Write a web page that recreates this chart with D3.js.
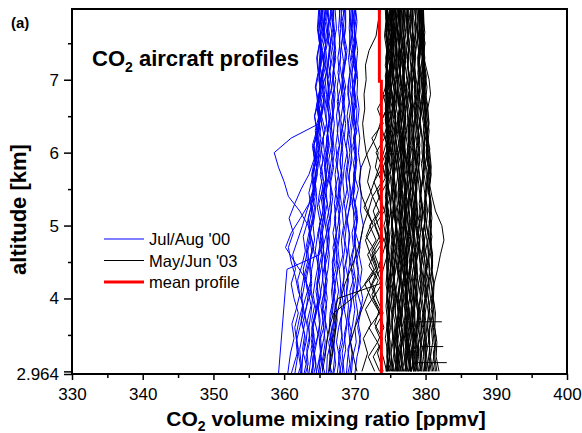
<!DOCTYPE html>
<html>
<head>
<meta charset="utf-8">
<script src="https://cdn.jsdelivr.net/npm/d3@7"></script>
<style>
  html, body { margin: 0; padding: 0; background: #fff; }
  svg { display: block; font-family: Arial, "Liberation Sans", Helvetica, sans-serif; }
</style>
</head>
<body>
<svg id="chart" width="582" height="433"></svg>
<script>
// Sampling levels (km). Flights were logged on three interleaved altitude schemes.
const julAugLevelsA = [2.964, 3.2, 3.4, 3.6, 3.8, 4.0, 4.2, 4.4, 4.6, 4.8, 5.0, 5.2, 5.4, 5.6, 5.8, 6.0, 6.2, 6.4, 6.6, 6.8, 7.0, 7.2, 7.4, 7.6, 7.8, 7.97];
const julAugLevelsB = [2.964, 3.1, 3.3, 3.5, 3.7, 3.9, 4.1, 4.3, 4.5, 4.7, 4.9, 5.1, 5.3, 5.5, 5.7, 5.9, 6.1, 6.3, 6.5, 6.7, 6.9, 7.1, 7.3, 7.5, 7.7, 7.97];
const julAugLevelsC = [2.964, 3.25, 3.45, 3.65, 3.85, 4.05, 4.25, 4.45, 4.65, 4.85, 5.05, 5.25, 5.45, 5.65, 5.85, 6.05, 6.25, 6.45, 6.65, 6.85, 7.05, 7.25, 7.45, 7.65, 7.85, 7.97];
const mayJunLevelsA = [3.0, 3.2, 3.4, 3.6, 3.8, 4.0, 4.2, 4.4, 4.6, 4.8, 5.0, 5.2, 5.4, 5.6, 5.8, 6.0, 6.2, 6.4, 6.6, 6.8, 7.0, 7.2, 7.4, 7.6, 7.8, 7.97];
const mayJunLevelsB = [3.0, 3.1, 3.3, 3.5, 3.7, 3.9, 4.1, 4.3, 4.5, 4.7, 4.9, 5.1, 5.3, 5.5, 5.7, 5.9, 6.1, 6.3, 6.5, 6.7, 6.9, 7.1, 7.3, 7.5, 7.7, 7.97];
const mayJunLevelsC = [3.0, 3.25, 3.45, 3.65, 3.85, 4.05, 4.25, 4.45, 4.65, 4.85, 5.05, 5.25, 5.45, 5.65, 5.85, 6.05, 6.25, 6.45, 6.65, 6.85, 7.05, 7.25, 7.45, 7.65, 7.85, 7.97];

// Jul/Aug 2000 CO2 (ppmv), bottom to top; null = no reading
const julAugA = [
  [364.0,364.3,364.1,363.9,364.4,364.8,364.7,364.9,365.3,365.2,365.0,365.5,365.6,365.9,365.7,365.8,366.2,366.0,365.9,366.3,366.1,366.2,366.5,366.1,366.3,366.0],
  [366.5,366.6,366.3,366.9,367.1,367.0,366.8,367.3,367.5,367.2,367.6,367.9,367.7,367.8,368.2,368.3,368.0,368.4,368.6,368.2,368.3,368.5,368.7,368.4,368.2,368.5],
  [368.8,369.0,369.3,369.1,369.2,369.6,369.8,369.5,369.7,370.1,369.9,369.8,369.5,369.8,370.0,370.2,369.9,370.1,369.8,369.7,370.0,370.1,369.8,370.0,369.9,369.7],
  [362.5,362.6,363.1,363.3,362.9,363.5,363.9,363.6,363.8,364.3,364.1,364.4,364.6,364.4,364.8,364.9,365.2,364.9,365.3,365.1,365.2,365.6,365.3,365.1,365.4,365.3],
  [365.0,365.5,365.8,365.6,365.7,366.1,365.8,366.2,366.4,366.1,366.5,366.6,366.9,366.5,366.8,367.1,366.9,366.6,367.0,367.2,366.9,367.0,367.3,367.1,366.9,367.0],
  [369.5,369.7,370.2,370.0,370.4,370.1,370.3,370.5,370.2,369.9,370.2,370.3,369.8,369.9,370.2,370.1,369.8,370.2,370.3,369.9,370.0,370.2,369.9,370.1,369.8,370.0],
  [363.4,363.1,363.6,363.5,363.8,364.0,363.7,363.9,364.3,363.9,363.4,362.2,360.6,360.0,359.2,358.6,361.0,365.0,365.4,365.7,365.4,365.9,365.7,366.1,365.8,366.1],
  [359.2,null,null,null,null,null,null,360.4,365.0,365.5,365.3,365.7,365.4,366.0,365.8,366.2,366.0,366.5,366.2,366.4,366.2,366.6,366.4,366.8,366.5,366.7],
  [367.5,367.8,367.4,367.7,368.2,367.9,368.0,367.8,368.3,368.1,368.4,368.2,368.5,368.3,368.5,368.9,368.5,368.7,368.4,368.6,368.3,368.6,368.9,368.5,368.7,368.5],
  [363.5,363.8,364.3,364.1,364.5,364.9,364.6,365.0,364.8,365.2,365.0,365.5,365.2,365.6,365.3,365.7,365.5,366.0,365.7,366.0,365.8,366.1,365.9,366.3,366.0,366.2],
  [370.0,370.3,370.8,370.4,370.8,371.1,370.7,371.0,370.6,370.8,371.2,370.8,370.9,370.7,370.8,370.5,370.7,370.4,370.6,370.3,370.4,370.2,370.4,370.1,370.3,370.1],
  [361.5,361.9,361.7,362.2,362.7,362.5,362.9,362.7,363.2,363.7,363.5,363.9,364.4,364.2,364.6,365.1,364.9,365.3,365.0,365.5,365.3,365.7,365.4,365.8,365.6,365.8],
  [366.0,366.1,366.6,366.4,366.5,367.0,367.2,366.8,367.1,367.4,367.3,367.2,367.6,367.8,367.5,367.7,368.0,367.9,367.7,368.1,368.2,367.9,368.0,368.3,368.1,368.1],
  [362.5,362.1,361.8,361.5,362.0,361.4,361.0,361.6,361.2,361.9,362.6,363.2,363.9,364.5,364.3,364.9,364.6,365.0,364.7,365.3,364.9,365.2,365.1,365.6,365.2,365.4],
  [368.0,367.7,368.3,368.0,368.2,368.6,368.4,368.5,368.9,368.6,368.8,368.7,369.1,368.8,369.0,369.3,369.0,369.1,369.4,369.0,369.2,369.5,369.2,369.3,369.4,369.2],
  [364.8,365.2,365.0,365.6,365.4,365.5,365.9,365.7,366.2,366.4,366.2,366.7,366.5,366.6,367.0,366.7,366.9,367.1,366.8,367.0,367.3,366.9,367.1,367.2,367.0,367.0]
];
const julAugB = [
  [362.8,363.1,362.6,362.9,362.4,362.7,362.0,361.6,361.0,360.6,361.3,360.7,361.5,362.4,363.5,364.2,364.7,364.4,364.9,364.8,365.2,364.9,365.3,365.0,365.4,365.2],
  [365.8,365.4,365.9,366.2,365.8,366.0,365.6,366.0,365.7,366.1,366.0,366.4,366.1,365.6,366.0,365.8,366.3,366.1,366.4,366.0,366.3,366.0,366.3,366.6,366.3,366.6],
  [364.5,364.8,365.2,364.9,365.1,364.8,365.2,365.5,365.3,365.6,365.4,365.8,365.6,366.0,366.5,366.3,366.7,366.5,366.9,366.7,367.1,366.9,367.3,367.0,367.4,367.2],
  [368.2,368.3,368.7,368.5,368.9,369.1,368.8,369.0,369.3,369.1,369.2,368.9,369.4,369.3,369.2,369.6,369.4,369.5,369.8,369.5,369.7,369.6,369.9,369.6,369.7,369.6],
  [362.0,362.4,362.2,362.6,363.0,362.7,363.3,363.0,363.5,363.3,363.7,363.4,363.9,364.3,364.0,364.5,364.2,364.8,365.1,364.9,365.3,365.0,365.4,365.2,365.6,365.4],
  [365.2,364.9,365.3,365.1,365.5,365.2,365.7,365.4,365.8,365.5,366.0,365.7,366.1,365.9,366.3,366.0,366.4,366.1,366.6,366.3,366.7,366.4,366.8,366.5,366.9,366.6],
  [367.0,367.3,367.0,367.2,367.5,367.3,367.7,367.4,367.8,367.6,367.9,367.7,368.1,367.8,368.2,367.9,368.3,368.1,368.6,368.2,368.7,368.3,368.8,368.4,368.7,368.7],
  [369.0,369.3,369.0,369.6,369.1,369.5,369.3,369.9,369.3,369.8,369.6,370.1,369.6,370.0,369.8,370.2,369.7,370.3,369.8,370.2,369.9,370.3,369.8,370.1,369.9,370.1],
  [364.2,364.5,364.2,364.8,364.3,364.8,364.5,365.0,364.7,365.1,364.8,365.3,364.9,365.5,365.1,365.5,365.2,365.8,365.3,365.7,365.4,366.0,365.5,365.9,365.6,365.9],
  [366.8,366.4,366.9,366.6,367.0,366.7,367.3,366.8,367.2,366.9,367.4,367.1,367.6,367.2,367.7,367.3,367.8,367.5,367.9,367.5,368.0,367.6,368.0,367.8,368.0,367.8],
  [363.0,363.4,363.2,363.6,363.3,363.8,363.4,363.9,363.6,364.2,363.7,364.2,363.9,364.5,364.0,364.5,364.2,364.7,364.3,364.9,364.4,364.8,364.6,365.0,364.7,364.9],
  [null,null,370.5,370.8,370.4,370.9,370.3,370.6,370.2,370.7,370.1,370.4,370.0,370.5,369.9,370.3,369.9,370.2,369.7,370.0,369.6,370.1,369.5,369.9,369.5,369.7],
  [363.8,364.1,363.8,364.2,363.9,364.3,363.6,362.8,361.5,360.2,361.0,362.3,363.5,364.1,363.9,364.3,364.0,364.6,364.3,364.7,364.5,364.9,364.7,365.0,364.8,365.0],
  [366.2,366.6,366.4,366.8,366.5,366.9,366.7,367.0,366.8,367.2,366.9,367.3,367.1,367.4,367.2,367.5,367.3,367.6,367.4,367.7,367.5,367.8,367.6,367.9,367.7,367.9],
  [361.0,361.4,362.0,361.7,362.1,362.6,362.4,362.8,363.3,363.1,363.5,364.0,363.8,364.2,364.7,364.5,364.9,364.7,365.0,364.8,365.1,364.9,365.2,365.0,365.2,365.0],
  [367.8,368.1,367.8,368.2,368.0,368.4,368.1,368.5,368.3,368.6,368.4,368.8,368.5,368.9,368.7,369.0,368.8,369.1,368.9,369.2,369.0,369.3,369.1,369.4,369.2,369.3]
];
const julAugC = [
  [364.6,364.3,364.7,365.0,364.8,365.2,364.9,365.3,365.6,365.2,365.5,365.8,365.5,365.9,366.2,365.9,366.1,366.4,366.1,366.3,366.6,366.2,366.4,366.1,366.3,366.2],
  [366.9,367.2,366.8,367.1,367.4,367.0,367.3,367.6,367.3,367.7,367.9,367.6,367.9,368.2,367.9,368.1,368.4,368.0,368.3,368.5,368.2,368.4,368.1,368.3,368.5,368.3],
  [362.3,362.7,363.0,362.6,363.1,363.4,363.1,363.5,363.9,363.6,364.0,364.3,364.0,364.4,364.7,364.5,364.8,365.1,364.8,365.0,365.3,365.0,365.2,364.9,365.1,365.0],
  [369.3,369.6,369.3,369.7,370.0,369.7,370.1,369.8,370.2,369.9,370.3,370.0,369.7,370.1,369.8,370.2,370.0,369.7,370.1,369.9,370.2,369.8,370.1,369.9,370.2,370.0],
  [365.5,365.2,365.6,365.9,365.5,365.8,366.1,365.7,366.0,366.3,366.0,366.4,366.7,366.3,366.6,366.9,366.6,366.8,367.1,366.7,366.9,367.2,366.8,367.0,366.8,366.9],
  [360.5,360.9,361.4,361.1,361.7,362.2,361.9,362.5,363.0,362.7,363.3,363.8,363.5,364.0,364.4,364.1,364.6,364.9,364.6,365.0,365.3,365.0,365.2,364.9,365.1,365.0],
  [368.5,368.2,368.6,368.9,368.5,368.8,369.1,368.7,369.0,369.3,368.9,369.2,369.5,369.1,369.4,369.6,369.2,369.5,369.7,369.3,369.5,369.8,369.4,369.6,369.4,369.5],
  [363.9,364.2,363.8,364.1,364.5,364.1,364.4,364.8,364.4,364.7,365.1,364.7,365.0,365.4,365.0,365.3,365.6,365.2,365.5,365.8,365.4,365.6,365.9,365.5,365.7,365.6]
];

// May/Jun 2003 CO2 (ppmv), bottom to top
const mayJunA = [
  [374.9,374.6,374.8,375.0,374.7,374.5,374.8,375.1,374.9,374.6,374.7,375.1,374.9,374.5,374.6,374.9,375.0,374.7,374.4,374.6,374.8,374.9,374.6,374.8,374.7,374.5],
  [375.3,375.7,375.5,375.2,375.4,375.6,375.1,375.0,375.4,375.6,375.3,375.0,375.2,375.5,375.4,375.1,374.9,375.2,375.4,375.3,375.0,375.1,375.4,375.5,375.2,375.3],
  [376.2,376.0,375.7,375.9,376.2,375.9,375.6,375.5,375.8,376.0,375.8,375.5,375.7,375.4,375.6,375.9,375.7,375.8,375.5,375.6,375.9,375.7,375.4,375.6,375.5,375.6],
  [376.5,376.2,376.6,376.8,376.4,376.1,376.4,376.6,376.3,376.2,375.9,376.2,376.5,376.4,376.2,376.0,376.3,376.1,376.4,376.0,376.1,376.5,376.3,376.2,375.9,376.2],
  [377.2,377.0,376.8,377.0,376.7,376.6,376.9,377.1,376.8,376.7,376.4,376.6,376.4,376.7,376.8,376.5,376.6,376.3,376.5,376.8,376.5,376.4,376.2,376.5,376.3,376.4],
  [377.5,377.2,377.4,377.0,377.2,377.4,377.0,376.8,377.1,377.3,377.0,377.2,376.9,377.2,376.8,376.9,376.7,377.0,376.9,377.1,376.8,376.9,376.6,376.8,376.7,376.8],
  [378.0,377.8,377.6,377.9,377.7,377.4,377.6,377.3,377.5,377.9,377.7,377.6,377.3,377.5,377.2,377.4,377.8,377.5,377.4,377.2,377.4,377.1,377.3,377.6,377.3,377.4],
  [378.4,378.1,378.3,378.0,377.9,378.1,377.9,377.7,378.0,378.3,378.1,378.0,377.7,377.9,377.6,377.8,377.6,377.8,378.0,377.8,377.7,377.5,377.7,377.6,377.8,377.6],
  [378.9,378.6,378.7,378.4,378.5,378.3,378.4,378.8,378.5,378.5,378.2,378.4,378.1,378.3,378.7,378.4,378.4,378.1,378.2,378.0,378.2,378.5,378.3,378.3,378.0,378.2],
  [379.5,379.2,379.3,379.0,379.1,378.8,379.0,379.4,379.1,379.2,378.8,378.9,378.6,378.8,378.5,378.7,379.0,378.8,378.8,378.5,378.6,378.4,378.5,378.9,378.6,378.7],
  [380.2,379.9,380.0,379.7,379.8,379.5,379.7,380.0,379.8,379.8,379.4,379.6,379.3,379.5,379.8,379.5,379.5,379.2,379.3,379.1,379.2,379.0,379.1,379.4,379.1,379.2],
  [380.8,380.5,380.6,380.3,380.4,380.1,380.3,380.6,380.4,380.5,380.1,380.3,380.0,380.2,380.6,380.3,380.3,380.0,380.1,379.8,379.9,379.7,379.8,379.6,379.7,379.6],
  [381.6,381.3,381.4,381.1,381.2,380.9,381.1,380.8,380.9,380.6,380.8,380.5,380.6,380.3,380.4,380.1,380.2,379.9,380.0,379.7,379.8,379.6,379.7,379.5,379.6,379.5],
  [380.5,380.7,380.5,380.6,381.0,380.8,381.2,381.7,382.1,382.6,382.3,381.4,380.9,380.5,380.8,380.6,380.2,380.5,380.3,379.9,380.0,379.8,379.5,379.7,379.4,379.5],
  [379.8,380.0,379.8,379.9,379.7,379.9,379.6,379.8,379.5,379.7,379.4,379.6,379.3,379.5,379.9,380.3,380.1,380.4,380.3,380.7,380.5,380.0,379.6,379.3,379.5,379.3],
  [375.2,374.9,375.0,374.7,374.9,374.6,374.8,374.5,374.6,374.9,374.6,374.7,374.4,374.6,374.5,374.7,374.6,374.8,374.5,374.6,374.4,374.5,374.8,374.5,374.6,374.5],
  [375.9,376.2,375.9,376.0,375.7,375.8,375.5,375.7,375.4,375.5,375.9,375.6,375.7,375.4,375.6,375.3,375.4,375.8,375.5,375.6,375.3,375.4,375.2,375.3,375.7,375.3],
  [376.9,376.6,376.6,376.3,376.5,376.2,376.4,376.1,376.3,376.7,376.3,376.4,376.1,376.2,375.9,376.1,375.8,376.0,376.3,376.0,376.1,375.8,375.9,375.7,375.8,375.7],
  [377.8,377.5,377.5,377.2,377.4,377.1,377.3,377.0,377.2,377.6,377.2,377.3,377.0,377.1,376.8,377.0,376.7,376.9,377.2,376.9,377.0,376.7,376.8,376.6,376.7,376.6],
  [378.6,378.3,378.3,378.0,378.2,377.9,378.1,377.8,378.0,378.4,378.0,378.1,377.8,377.9,377.6,377.8,377.5,377.7,378.0,377.7,377.8,377.5,377.6,377.4,377.5,377.4],
  [379.3,379.0,379.0,378.7,378.9,378.6,378.8,378.5,378.7,379.1,378.7,378.8,378.5,378.6,378.3,378.5,378.2,378.4,378.7,378.4,378.5,378.2,378.3,378.1,378.2,378.1],
  [374.6,374.9,374.8,375.0,374.9,375.2,375.0,375.3,375.1,375.4,375.2,375.5,375.3,375.6,375.4,375.7,375.5,375.8,375.6,375.9,375.7,376.0,375.8,376.1,375.9,376.0],
  [377.8,377.5,377.6,377.3,377.4,377.1,377.2,377.0,377.0,376.8,376.9,376.7,376.7,376.5,376.6,376.4,376.4,376.2,376.3,376.1,376.1,375.9,376.0,375.8,375.9,375.8],
  [380.0,379.7,379.7,379.4,379.6,379.3,379.5,379.2,379.4,379.8,379.4,379.5,379.2,379.3,379.0,379.2,378.9,379.1,379.4,379.1,379.2,378.9,379.0,378.8,378.9,378.8],
  [374.8,374.5,374.8,374.6,374.9,374.7,374.4,374.6,374.5,374.7,374.6,374.2,374.5,374.4,374.6,374.5,374.7,374.6,374.3,374.5,374.4,374.6,374.5,374.2,374.4,374.3],
  [381.0,380.7,381.0,380.8,380.4,380.7,380.5,380.1,380.4,380.2,379.8,380.1,379.9,380.2,380.0,379.6,379.9,379.7,379.3,379.6,379.4,379.0,379.3,379.1,379.2,379.1],
  [381.9,381.5,381.6,381.3,381.4,381.1,381.2,380.9,381.0,380.7,380.8,380.5,380.6,380.3,380.4,380.1,380.2,379.9,379.9,379.7,379.8,379.5,379.6,379.4,379.5,379.4],
  [376.1,375.8,376.1,375.9,376.2,376.0,376.3,376.1,376.4,376.2,376.5,376.3,376.6,376.4,376.7,376.5,376.8,376.6,376.9,376.7,377.0,376.8,377.1,376.9,377.0,376.9],
  [366.3,366.5,366.8,367.2,367.5,368.0,368.6,369.4,370.2,370.8,371.2,371.9,372.5,371.8,372.2,371.6,371.3,371.1,371.4,371.3,371.6,371.5,372.0,373.0,373.3,373.6],
  [366.4,366.8,367.0,367.3,367.1,367.6,373.5,374.0,374.6,374.2,374.8,374.4,375.0,374.6,375.1,374.7,375.2,374.8,375.3,374.9,375.4,375.0,375.5,375.1,375.4,375.2],
  [365.4,365.8,366.0,366.4,367.0,369.6,371.5,373.2,372.4,373.6,372.8,374.2,373.5,374.6,374.0,374.8,374.3,375.0,374.6,375.2,374.7,375.3,374.9,375.4,375.0,375.2],
  [372.8,371.9,373.2,372.0,373.5,372.3,371.4,372.7,371.8,373.0,372.1,373.4,372.5,373.8,372.9,373.3,372.4,374.0,373.2,374.3,374.8,375.2,374.6,375.0,374.7,374.9],
  [373.5,372.6,373.8,372.9,374.0,373.1,372.5,373.6,372.8,374.1,373.3,372.6,373.5,372.7,373.9,373.0,374.2,373.6,374.5,374.0,374.7,374.3,374.8,374.4,374.9,374.6],
  [374.5,374.0,373.2,374.1,373.5,372.6,373.8,373.0,372.2,371.5,372.6,371.8,371.0,370.6,370.9,371.8,372.9,373.6,374.5,375.0,374.6,375.1,374.7,375.2,374.8,375.0],
  [370.3,369.8,369.4,370.0,370.8,371.6,372.4,373.2,373.9,374.5,374.1,374.7,374.3,374.9,374.5,375.1,374.7,375.2,374.8,375.3,374.9,375.4,375.0,375.5,375.1,375.3]
];
const mayJunB = [
  [375.0,375.2,375.1,375.4,375.3,375.1,375.3,375.5,375.2,375.4,375.1,375.3,375.0,375.2,375.4,375.1,375.3,375.0,375.2,375.4,375.1,375.0,375.3,375.1,375.2,375.1],
  [375.6,375.8,375.5,375.7,375.9,375.6,375.8,375.5,375.7,376.0,375.7,375.9,375.6,375.8,375.5,375.7,375.9,375.6,375.8,375.5,375.7,375.4,375.6,375.8,375.5,375.6],
  [376.3,376.6,376.4,376.7,376.5,376.3,376.6,376.4,376.7,376.4,376.2,376.5,376.3,376.6,376.3,376.1,376.4,376.2,376.5,376.2,376.0,376.3,376.1,376.4,376.1,376.2],
  [377.0,377.3,377.1,377.4,377.2,377.0,377.3,377.1,377.4,377.1,376.9,377.2,377.0,377.3,377.0,376.8,377.1,376.9,377.2,376.9,376.7,377.0,376.8,377.1,376.8,377.0],
  [377.6,377.9,377.7,378.0,377.8,377.6,377.9,377.7,378.0,377.7,377.5,377.8,377.6,377.9,377.6,377.4,377.7,377.5,377.8,377.5,377.3,377.6,377.4,377.7,377.4,377.5],
  [378.3,378.6,378.4,378.7,378.5,378.3,378.6,378.4,378.7,378.4,378.2,378.5,378.3,378.6,378.3,378.1,378.4,378.2,378.5,378.2,378.0,378.3,378.1,378.4,378.1,378.2],
  [379.1,379.4,379.2,379.5,379.3,379.1,379.4,379.2,379.5,379.2,379.0,379.3,379.1,379.4,379.1,378.9,379.2,379.0,379.3,379.0,378.8,379.1,378.9,379.2,378.9,379.0],
  [379.8,380.1,379.9,380.2,380.0,379.8,380.1,379.9,380.2,379.9,379.7,380.0,379.8,380.1,379.8,379.6,379.9,379.7,380.0,379.7,379.5,379.8,379.6,379.9,379.6,379.7],
  [374.5,374.7,374.5,374.8,374.6,374.4,374.7,374.5,374.8,374.5,374.3,374.6,374.4,374.7,374.4,374.3,374.6,374.4,374.7,374.4,374.3,374.6,374.4,374.7,374.4,374.5],
  [376.0,375.8,376.1,375.9,376.2,376.0,375.8,376.1,375.9,376.2,375.9,375.7,376.0,375.8,376.1,375.8,375.6,375.9,375.7,376.0,375.7,375.5,375.8,375.6,375.9,375.7],
  [377.4,377.2,377.5,377.3,377.6,377.4,377.2,377.5,377.3,377.6,377.3,377.1,377.4,377.2,377.5,377.2,377.0,377.3,377.1,377.4,377.1,376.9,377.2,377.0,377.3,377.1],
  [378.8,378.6,378.9,378.7,379.0,378.8,378.6,378.9,378.7,379.0,378.7,378.5,378.8,378.6,378.9,378.6,378.4,378.7,378.5,378.8,378.5,378.3,378.6,378.4,378.7,378.5],
  [380.5,380.3,380.6,380.4,380.7,380.5,380.3,380.6,380.4,380.7,380.4,380.6,380.8,380.5,380.7,380.4,380.1,380.3,380.0,379.8,379.6,379.3,379.5,379.2,379.4,379.3],
  [376.6,376.9,377.2,377.0,377.3,377.1,377.4,377.2,377.5,377.3,377.6,377.4,377.7,377.5,377.8,377.6,377.9,377.7,378.0,377.8,378.1,377.9,378.2,378.0,378.2,378.1],
  [378.0,377.8,377.5,377.7,377.4,377.6,377.3,377.5,377.2,377.4,377.1,377.3,377.0,377.2,376.9,377.1,376.8,377.0,376.7,376.9,376.6,376.8,376.5,376.7,376.5,376.6],
  [375.5,375.3,375.6,375.4,375.2,375.5,375.3,375.6,375.3,375.1,375.4,375.2,375.5,375.2,375.0,375.3,375.1,375.4,375.1,374.9,375.2,375.0,375.3,375.0,375.2,375.1],
  [379.4,379.2,379.5,379.3,379.1,379.4,379.2,379.5,379.2,379.0,379.3,379.1,379.4,379.1,378.9,379.2,379.0,379.3,379.0,378.8,379.1,378.9,379.2,378.9,379.1,379.0],
  [381.2,381.0,381.3,381.1,380.9,381.2,380.9,380.7,381.0,380.8,380.6,380.9,380.7,380.5,380.8,380.6,380.3,380.5,380.2,380.0,380.2,379.9,379.7,379.9,379.6,379.7],
  [376.8,376.6,376.9,376.7,376.5,376.8,376.6,376.9,376.6,376.4,376.7,376.5,376.8,376.5,376.3,376.6,376.4,376.7,376.4,376.2,376.5,376.3,376.6,376.3,376.5,376.4],
  [378.5,378.3,378.6,378.4,378.2,378.5,378.3,378.6,378.3,378.1,378.4,378.2,378.5,378.2,378.0,378.3,378.1,378.4,378.1,377.9,378.2,378.0,378.3,378.0,378.2,378.1],
  [375.8,376.1,375.9,376.2,376.5,376.3,376.6,376.9,376.7,377.0,376.8,377.1,376.9,376.7,376.9,376.6,376.8,376.5,376.7,376.4,376.6,376.3,376.5,376.2,376.4,376.3],
  [377.9,378.2,378.0,378.3,378.1,378.4,378.2,378.5,378.3,378.6,378.4,378.7,378.5,378.8,378.6,378.9,378.7,379.0,378.8,379.1,378.9,379.2,379.0,379.3,379.1,379.2],
  [380.1,379.9,380.2,380.0,379.8,380.1,379.9,380.2,379.9,379.7,380.0,379.8,380.1,379.8,379.6,379.9,379.7,380.0,379.7,379.5,379.8,379.6,379.9,379.6,379.8,379.7],
  [374.7,375.0,374.8,374.6,374.9,374.7,375.0,374.7,374.5,374.8,374.6,374.9,374.6,374.4,374.7,374.5,374.8,374.5,374.3,374.6,374.4,374.7,374.4,374.6,374.5,374.5],
  [377.3,377.1,377.4,377.2,377.0,377.3,377.1,377.4,377.1,376.9,377.2,377.0,377.3,377.0,376.8,377.1,376.9,377.2,376.9,376.7,377.0,376.8,377.1,376.8,377.0,376.9],
  [378.0,378.3,378.1,378.4,378.2,378.0,378.3,378.1,378.4,378.1,377.9,378.2,378.0,378.3,378.0,377.8,378.1,377.9,378.2,377.9,377.7,378.0,377.8,378.1,377.8,377.9]
];
const mayJunC = [
  [375.4,375.1,375.5,375.7,375.3,375.6,375.2,375.5,375.8,375.4,375.3,375.7,375.5,375.2,375.6,375.4,375.1,375.5,375.3,375.6,375.2,375.4,375.1,375.5,375.3,375.4],
  [376.7,376.4,376.9,376.5,376.7,377.0,376.6,376.4,376.8,376.5,376.9,376.6,376.3,376.7,376.5,376.8,376.4,376.6,376.3,376.7,376.5,376.2,376.6,376.4,376.3,376.5],
  [377.9,377.6,378.0,377.7,378.2,377.8,377.5,377.9,378.1,377.7,377.9,377.5,377.8,378.0,377.6,377.4,377.8,377.6,377.9,377.5,377.7,377.4,377.8,377.5,377.6,377.5],
  [379.0,378.7,379.2,378.8,379.0,379.3,378.9,378.6,379.0,378.8,379.1,378.7,378.5,378.9,378.7,379.0,378.6,378.8,378.5,378.9,378.6,378.4,378.7,378.5,378.6,378.5],
  [374.6,374.9,374.7,374.5,374.8,375.0,374.6,374.8,374.5,374.9,374.7,374.4,374.8,374.6,374.9,374.5,374.7,374.4,374.8,374.6,374.3,374.7,374.5,374.8,374.4,374.6],
  [380.4,380.1,380.5,380.2,380.6,380.3,379.9,380.3,380.0,380.4,380.1,379.8,380.2,380.4,380.0,379.7,380.1,379.8,379.6,379.9,379.5,379.7,379.4,379.6,379.3,379.4],
  [376.0,376.3,375.9,376.2,376.5,376.1,376.4,376.0,376.3,376.6,376.2,376.0,376.4,376.1,375.9,376.3,376.0,376.2,375.8,376.1,375.9,376.2,375.8,376.0,375.9,376.0],
  [378.3,378.0,378.5,378.1,378.4,378.7,378.3,378.0,378.4,378.2,378.5,378.1,377.9,378.3,378.0,378.4,378.1,377.8,378.2,378.0,378.3,377.9,378.1,377.8,378.0,377.9],
  [377.2,377.5,377.1,377.4,377.7,377.3,377.0,377.4,377.2,377.5,377.1,376.9,377.3,377.0,377.4,377.1,376.8,377.2,377.0,377.3,376.9,377.1,376.8,377.2,376.9,377.0],
  [379.7,379.4,379.9,379.5,379.8,380.1,379.7,379.4,379.8,379.5,379.9,379.6,379.3,379.7,379.4,379.8,379.5,379.2,379.6,379.3,379.5,379.1,379.4,379.2,379.3,379.2],
  [375.7,376.0,375.6,375.9,376.2,375.8,375.5,375.9,375.6,376.0,375.7,375.4,375.8,375.5,375.9,375.6,375.3,375.7,375.5,375.8,375.4,375.6,375.3,375.7,375.4,375.5],
  [381.4,381.1,381.5,381.2,380.8,381.1,380.7,381.0,380.6,380.9,380.5,380.8,380.4,380.7,380.3,380.6,380.2,380.0,380.3,379.9,380.1,379.8,379.6,379.9,379.6,379.7],
  [378.6,378.9,378.5,378.8,379.1,378.7,378.4,378.8,378.6,378.9,378.5,378.3,378.7,378.4,378.8,378.5,378.2,378.6,378.4,378.7,378.3,378.5,378.2,378.6,378.3,378.4],
  [376.4,376.1,376.5,376.2,376.6,376.9,376.5,376.2,376.6,376.4,376.7,376.3,376.1,376.5,376.2,376.6,376.3,376.0,376.4,376.2,376.5,376.1,376.3,376.0,376.2,376.1],
  [377.6,377.9,377.5,377.8,378.1,377.7,377.4,377.8,377.6,377.9,377.5,377.3,377.7,377.4,377.8,377.5,377.2,377.6,377.4,377.7,377.3,377.5,377.2,377.6,377.3,377.4],
  [374.4,374.7,374.3,374.6,374.9,374.5,374.8,375.1,374.7,374.5,374.9,374.6,374.4,374.8,374.5,374.9,374.6,374.3,374.7,374.5,374.8,374.4,374.6,374.3,374.7,374.5],
  [371.0,371.8,371.2,372.3,371.5,372.8,372.0,373.1,372.4,373.5,372.7,373.9,373.2,374.3,373.8,374.6,374.2,374.8,374.5,375.0,374.7,375.1,374.8,375.2,374.9,375.0],
  [374.0,373.2,373.9,372.8,373.5,372.4,373.3,372.0,372.9,371.6,372.4,371.3,372.2,372.9,373.6,374.2,374.8,374.5,375.0,374.7,375.1,374.8,375.2,374.9,375.1,375.0]
];

// Last readings of three May/Jun descents: [altitude km, ppmv]
const mayJunEnds = [
  [[3.12, 378.9], [3.12, 383.0]],
  [[3.34, 379.3], [3.34, 382.5]],
  [[3.68, 378.7], [3.68, 382.3]]
];

// Mean profile of all flights
const meanAltitudes = [2.964, 6.98, 6.98, 7.97];
const meanPpmv = [373.75, 373.75, 373.47, 373.47];

// Axis ticks
const xTicks = [330, 340, 350, 360, 370, 380, 390, 400];
const xMinorTicks = [335, 345, 355, 365, 375, 385, 395];
const yTicks = [2.964, 4, 5, 6, 7];
const yTickLabels = ["2.964", "4", "5", "6", "7"];
const yUnlabeledTicks = [3];
const yMinorTicks = [3.5, 4.5, 5.5, 6.5, 7.5];

const legendItems = [
  { label: "Jul/Aug '00", color: "#0000ff", width: 1 },
  { label: "May/Jun '03", color: "#000000", width: 1 },
  { label: "mean profile", color: "#ff0000", width: 3 }
];

const svg = d3.select("#chart");
const plotLeft = 72, plotRight = 567, plotTop = 9, plotBottom = 374;

const x = d3.scaleLinear().domain([330, 400]).range([plotLeft, plotRight]);
const y = d3.scaleLinear().domain([2.964, 7.97]).range([plotBottom, plotTop]);

svg.append("defs").append("clipPath").attr("id", "plotClip")
  .append("rect").attr("x", plotLeft).attr("y", plotTop)
  .attr("width", plotRight - plotLeft).attr("height", plotBottom - plotTop);

const line = d3.line().x(d => x(d[1])).y(d => y(d[0]));
const toPoints = levels => vals => levels.map((a, i) => [a, vals[i]]).filter(d => d[1] != null);

const julAugLines = julAugA.map(toPoints(julAugLevelsA))
  .concat(julAugB.map(toPoints(julAugLevelsB)), julAugC.map(toPoints(julAugLevelsC)));
const mayJunLines = mayJunA.map(toPoints(mayJunLevelsA))
  .concat(mayJunB.map(toPoints(mayJunLevelsB)), mayJunC.map(toPoints(mayJunLevelsC)), mayJunEnds);

const plot = svg.append("g").attr("clip-path", "url(#plotClip)");

plot.append("g").selectAll("path").data(julAugLines).join("path")
  .attr("d", line)
  .attr("fill", "none").attr("stroke", "#0000ff").attr("stroke-width", 1);

plot.append("g").selectAll("path").data(mayJunLines).join("path")
  .attr("d", line)
  .attr("fill", "none").attr("stroke", "#000").attr("stroke-width", 1);

plot.append("path")
  .datum(toPoints(meanAltitudes)(meanPpmv))
  .attr("d", line)
  .attr("fill", "none").attr("stroke", "#ff0000").attr("stroke-width", 3);

// Frame
svg.append("rect")
  .attr("x", plotLeft).attr("y", plotTop)
  .attr("width", plotRight - plotLeft).attr("height", plotBottom - plotTop)
  .attr("fill", "none").attr("stroke", "#000").attr("stroke-width", 2);

// X axis
const xAxis = svg.append("g").attr("transform", `translate(0,${plotBottom})`);
xAxis.call(d3.axisBottom(x).tickValues(xTicks).tickSize(6).tickPadding(8).tickFormat(d3.format("d")));
xAxis.append("g").call(d3.axisBottom(x).tickValues(xMinorTicks).tickSize(4).tickFormat(""));
xAxis.selectAll(".domain").remove();
xAxis.selectAll("line").attr("stroke", "#000").attr("stroke-width", 1.5);
xAxis.selectAll("text").attr("font-size", 17).attr("fill", "#000")
  .attr("font-family", "Arial, 'Liberation Sans', sans-serif");

// Y axis
const yAxis = svg.append("g").attr("transform", `translate(${plotLeft},0)`);
yAxis.call(d3.axisLeft(y).tickValues(yTicks).tickSize(8).tickPadding(5)
  .tickFormat((d, i) => yTickLabels[i]));
yAxis.append("g").call(d3.axisLeft(y).tickValues(yUnlabeledTicks).tickSize(8).tickFormat(""));
yAxis.append("g").call(d3.axisLeft(y).tickValues(yMinorTicks).tickSize(4).tickFormat(""));
yAxis.selectAll(".domain").remove();
yAxis.selectAll("line").attr("stroke", "#000").attr("stroke-width", 1.5);
yAxis.selectAll("text").attr("font-size", 17).attr("fill", "#000")
  .attr("font-family", "Arial, 'Liberation Sans', sans-serif");

// Axis titles
const xTitle = svg.append("text")
  .attr("x", 326).attr("y", 426)
  .attr("text-anchor", "middle").attr("font-size", 21).attr("font-weight", "bold");
xTitle.append("tspan").text("CO");
xTitle.append("tspan").attr("font-size", 14).attr("dy", 5).text("2");
xTitle.append("tspan").attr("dy", -5).text(" volume mixing ratio [ppmv]");

svg.append("text")
  .attr("transform", `translate(26,${(plotTop + plotBottom) / 2 + 18}) rotate(-90)`)
  .attr("text-anchor", "middle").attr("font-size", 22).attr("font-weight", "bold")
  .text("altitude [km]");

// Panel label and title
svg.append("text").attr("x", 11).attr("y", 28)
  .attr("font-size", 15).attr("font-weight", "bold").text("(a)");

const title = svg.append("text").attr("x", 92).attr("y", 66)
  .attr("font-size", 22).attr("font-weight", "bold");
title.append("tspan").text("CO");
title.append("tspan").attr("font-size", 14).attr("dy", 6).text("2");
title.append("tspan").attr("dy", -6).text(" aircraft profiles");

// Legend
const legend = svg.append("g").attr("transform", "translate(104,239)");
const rows = legend.selectAll("g").data(legendItems).join("g")
  .attr("transform", (d, i) => `translate(0,${i * 21.5})`);
rows.append("line").attr("x1", 0).attr("x2", 40).attr("y1", 0).attr("y2", 0)
  .attr("stroke", d => d.color).attr("stroke-width", d => d.width);
rows.append("text").attr("x", 45).attr("y", 6)
  .attr("font-size", 16.5).text(d => d.label);
</script>
</body>
</html>
